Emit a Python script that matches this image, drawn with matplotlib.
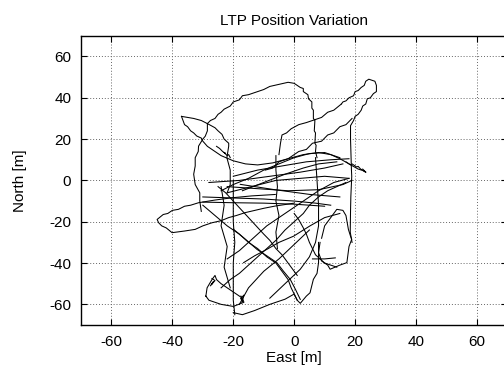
import matplotlib
matplotlib.use("Agg")
import matplotlib.pyplot as plt

plt.rcParams['font.family'] = ['Liberation Sans', 'DejaVu Sans']
plt.rcParams['axes.unicode_minus'] = False

# trajectory pieces, (east, north) in metres
top_loop = [(-37, 31), (-35, 30.5), (-33, 30), (-30.5, 29), (-28.5, 27.5), (-27.5, 29), (-26, 30),
            (-25, 32), (-24, 33), (-23, 34.5), (-21, 36), (-20, 38), (-18, 39), (-17, 41),
            (-15, 41.5), (-12, 43), (-10, 44), (-8, 45.5), (-5, 46.5), (-2, 47.5), (0, 47),
            (1, 46), (2, 45), (3, 44.5), (3, 43), (4.5, 41.5), (4.7, 39.5), (5.8, 38), (5.8, 35),
            (6.3, 34), (6.3, 30), (6.8, 29), (6.6, 24), (7, 23), (6.8, 18), (7.2, 17), (7, 14),
            (7.5, 11)]
left_leaf = [(-37, 31), (-36.5, 29), (-36, 27), (-35, 26), (-34, 24), (-33, 23), (-32, 21.5),
             (-30.5, 20.5), (-30, 19), (-28.5, 16.5), (-26, 14), (-24, 12), (-20, 9.5), (-16, 8),
             (-12, 7.5), (-7, 8.5), (-2, 10.5), (3, 12.5), (8, 13.5), (12, 12.5), (15, 10.5),
             (18, 8), (21, 5.5), (22.5, 4.8), (23.5, 4)]
leaf_edge_a = [(-28.5, 27.5), (-28.5, 24), (-29.2, 21.4), (-30, 20), (-31.4, 16.6), (-31.5, 14),
               (-32.5, 11), (-32.5, 7), (-33, 3), (-32.5, -2), (-31, -6), (-31, -10), (-30.5, -15)]
leaf_edge_b = [(-28.5, 27.5), (-26, 25.5), (-25, 24), (-23.7, 22.3), (-23, 20), (-21.5, 18),
               (-21.5, 16.6), (-22.1, 11), (-21, 5), (-21, -2), (-22, -6)]
right_leaf = [(15.5, 37), (16, 38), (17, 38.5), (18, 40), (19.5, 41), (20, 43), (21, 43.5),
              (22, 45), (23, 46), (23.5, 48), (24.5, 49), (26.5, 48), (27, 46), (27, 43), (26, 42),
              (25, 40), (24, 39.5), (23.5, 37), (22.5, 36), (22, 34), (21, 32), (20, 31),
              (19.5, 29), (18.5, 26.5), (18.5, 20), (18.6, 15), (18.8, 5), (18.9, 2), (18.6, -8),
              (18.5, -15), (18.4, -25), (19, -30)]
diag_up_a = [(-5, 12.5), (-4.5, 18), (-4, 22), (-2.5, 23), (-1, 25), (1.5, 27), (4, 28),
             (7, 29.5), (9, 30.5), (11, 33), (13, 34), (15.5, 37)]
diag_up_b = [(-9.5, 5), (-7, 6), (-5, 9), (-2, 10.5), (1.5, 14), (4, 15), (6, 18), (9, 19),
             (11, 22), (13, 23), (15, 26), (17, 27), (19, 30)]
tail_nw = [(-25.5, 16.5), (-24.5, 15.5), (-23.5, 14), (-22.5, 13), (-23, 13.5), (-22, 12),
           (-21.5, 12.5), (-21, 11)]
tail_e = [(17, 9), (18.5, 7.5), (19, 8), (20.5, 6.5), (21, 6.8), (22, 5.2), (22.5, 5.5),
          (23.5, 4), (22.8, 4.6)]
left_low_leaf = [(-6.2, -6.8), (-14, -7.5), (-20.4, -8.4), (-26, -9.5), (-31.4, -10.8),
                 (-34, -12), (-36, -12.5), (-38, -14), (-40, -14.5), (-41.5, -16), (-43, -16.5),
                 (-45, -18.9), (-44.5, -20.5), (-43.5, -22), (-42, -23), (-40.1, -25.3),
                 (-36, -24.5), (-32.5, -23.7), (-30, -22), (-27, -20.5), (-24, -19.5),
                 (-21.5, -18), (-19, -17), (-16.1, -15.6), (-10, -13.5), (-6.2, -12.4), (0, -11)]
mid_h1 = [(-30, -8), (-20, -8.5), (-10, -9), (0, -10), (7, -11), (12, -12)]
mid_h2 = [(-22, -3), (-12, -4), (-2, -5), (8, -4.5), (16, -2), (19, 0)]
mid_h3 = [(-28, -1), (-18, 0), (-8, 2), (2, 4), (10, 6), (16, 8)]
mid_h4 = [(-20, 2), (-12, 5), (-4, 7), (4, 9), (12, 10), (18, 10.5)]
mid_h5 = [(-22, -6), (-14, -3), (-6, 0), (2, 1), (10, 2), (18, 1)]
mid_h6 = [(-30, -10.5), (-20, -10.8), (-10, -11), (0, -11.5), (10, -12.5)]
mid_h7 = [(-17.7, -1.9), (-6.8, -4.4), (5.2, -6.8), (15, -8)]
mid_rise = [(-17, -5), (-10, -1), (-3, 3), (3, 6), (8, 8), (14, 9)]
mid_arc = [(-24, -5), (-20, -2), (-15, 1), (-10, 5), (-5, 8), (0, 11), (5, 13), (10, 13.5),
           (15, 11)]
diag_a = [(-30, -12), (-26, -17), (-22, -22), (-18, -26), (-15, -30), (-12, -33), (-9, -37),
          (-6, -40), (-4, -44), (-2, -48), (-1, -52), (1, -58)]
diag_b = [(-24, -52), (-21, -48), (-18, -45), (-15, -41), (-12, -37), (-9, -33), (-6, -29),
          (-3, -24), (0, -20), (3, -16), (5, -12), (8, -8), (11, -5), (14, -3), (17, -1)]
diag_c = [(-22, -38), (-18, -34), (-15, -30), (-12, -26), (-9, -22), (-6, -19), (-3, -16),
          (0, -13), (3, -10), (8, -5), (13, -1), (18, 1)]
diag_d = [(-25, -3), (-22.5, -6), (-20, -10), (-17.5, -14), (-15, -18), (-12.5, -22),
          (-10, -26), (-8, -29), (-6, -33), (-4, -36), (-2, -40), (1, -46)]
diag_e = [(0, -16), (1.5, -19), (3, -23), (4, -26), (5, -30), (6, -33), (7, -36), (10, -40),
          (14, -42)]
diag_f = [(-8, -57), (-3, -50), (2, -43), (5, -37), (7, -30), (8, -22), (8, -12), (7.5, 0), (7, 11)]
diag_k = [(-16.6, -39.8), (-13, -36.5), (-9, -33.4), (-5, -30), (-0.2, -27), (5.2, -22), (10, -18),
          (15, -16)]
diag_m = [(-19.9, -23.7), (-16, -28.5), (-12.2, -33.4), (-9, -36.5), (-5.7, -39.8), (-3.5, -44),
          (-1.3, -47.9), (0.5, -53), (2, -57.6)]
vert_g = [(-6, 12), (-6, 5), (-5.5, -3), (-6, -10), (-5, -17), (-6, -25), (-5.5, -33)]
vert_h = [(-20, 0), (-20, -10), (-20, -20), (-19.5, -30), (-20, -40), (-20, -50), (-20, -58),
          (-19.5, -65)]
vert_i = [(-24, -3), (-23, -12), (-24, -22), (-22, -32), (-23, -42), (-21, -52)]
diag_j = [(-18, -60), (-15, -52), (-10, -44), (-5, -38), (0, -31), (5, -24)]
loop_sw = [(-29, -56), (-28.6, -52), (-27, -48), (-26, -46), (-25.5, -48), (-24, -50),
           (-22, -52), (-20, -54), (-17, -57), (-16.5, -59), (-20, -61), (-24, -60), (-28, -58),
           (-29, -56)]
jitter_sw = [(-27.5, -51), (-26.5, -49), (-27.2, -50.5), (-26, -48.5), (-27, -47.5)]
jitter_s = [(-17.5, -56), (-16.8, -58.5), (-17.6, -57.2), (-16.5, -55.5), (-17.2, -59)]
loop_s = [(-20, -64), (-17, -65), (-13, -63), (-8, -60), (-3, -57.5), (0, -55), (1, -58),
          (2, -59.5), (4, -56), (5.2, -54.4), (6.3, -47.9), (7.5, -45), (8, -39.8), (8, -30)]
loop_se = [(9, -28), (10, -22), (12, -18), (14, -14), (16, -14.5), (17, -17), (17.8, -23.7),
           (18.5, -27), (18.9, -28.5), (18, -32), (17.3, -39.8), (15, -41), (11.8, -43),
           (11, -41), (9, -39), (8, -35), (8.5, -30)]
stub_se = [(6, -38), (10, -38), (13.5, -37.5)]

pieces = [top_loop, left_leaf, leaf_edge_a, leaf_edge_b, right_leaf, diag_up_a, diag_up_b,
          tail_nw, tail_e, left_low_leaf, mid_h1, mid_h2, mid_h3, mid_h4, mid_h5, mid_h6,
          mid_h7, mid_rise, mid_arc, diag_a, diag_b, diag_c, diag_d, diag_e, diag_f, diag_k,
          diag_m, vert_g, vert_h, vert_i, diag_j, loop_sw, jitter_sw, jitter_s, loop_s,
          loop_se, stub_se]

fig = plt.figure(figsize=(5.04, 3.67), dpi=100)
ax = fig.add_axes([0.1607, 0.1144, 0.846, 0.788])

for p in pieces:
    xs = [pt[0] for pt in p]
    ys = [pt[1] for pt in p]
    ax.plot(xs, ys, color='black', linewidth=0.75)

ax.set_xlim(-70, 70)
ax.set_ylim(-70, 70)
ax.set_xticks(range(-60, 61, 20))
ax.set_yticks(range(-60, 61, 20))
ax.grid(True, color='#666666', linestyle=(0, (1, 2)), linewidth=0.7)
ax.tick_params(direction='in', length=4, top=True, right=True, labelsize=11, pad=7)
for s in ax.spines.values():
    s.set_linewidth(1.0)

ax.set_title("LTP Position Variation", fontsize=11, pad=8)
ax.set_xlabel("East [m]", fontsize=11, labelpad=1.5)
ax.set_ylabel("North [m]", fontsize=11, labelpad=16)

fig.savefig("out.png", dpi=100)
